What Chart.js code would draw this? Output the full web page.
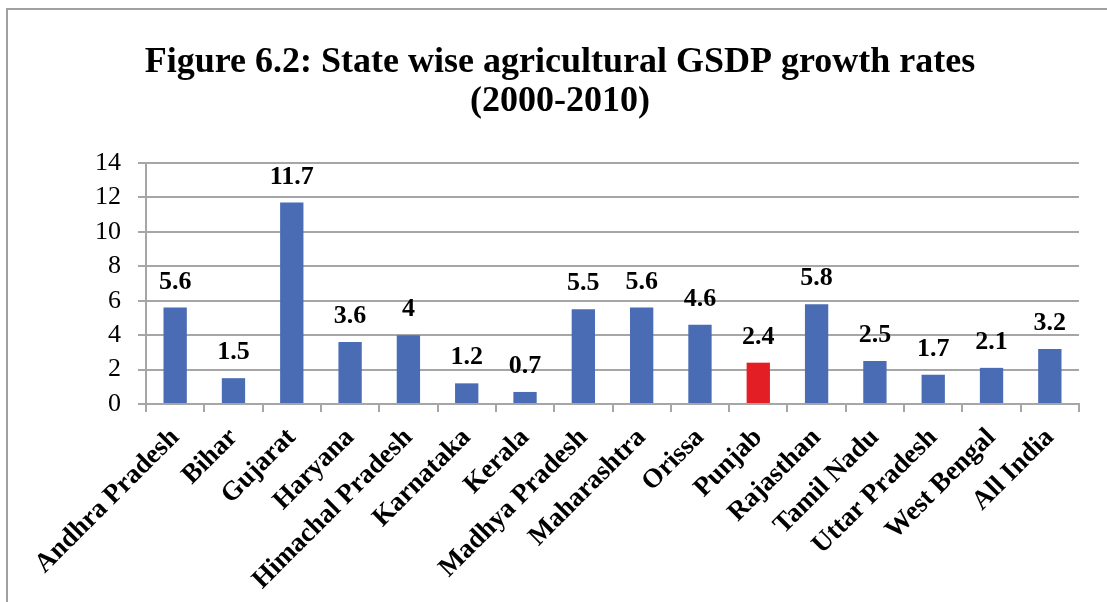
<!DOCTYPE html>
<html>
<head>
<meta charset="utf-8">
<script src="https://cdn.jsdelivr.net/npm/chart.js@4/dist/chart.umd.min.js"></script>
<style>
  html,body{margin:0;padding:0;background:#fff;}
  #wrap{width:1107px;height:602px;position:relative;}
</style>
</head>
<body>
<div id="wrap"><canvas id="chart" width="1107" height="602"></canvas></div>
<script>
var states=["Andhra Pradesh","Bihar","Gujarat","Haryana","Himachal Pradesh","Karnataka","Kerala","Madhya Pradesh","Maharashtra","Orissa","Punjab","Rajasthan","Tamil Nadu","Uttar Pradesh","West Bengal","All India"];
var growth=[5.6,1.5,11.7,3.6,4,1.2,0.7,5.5,5.6,4.6,2.4,5.8,2.5,1.7,2.1,3.2];
var yTicks=[0,2,4,6,8,10,12,14];
var titleLines=["Figure 6.2: State wise agricultural GSDP growth rates","(2000-2010)"];

var serif="'Liberation Serif','Times New Roman',serif";
var gridGrey="#a6a6a6";

// blue bars, Punjab in red
var barColors=states.map(function(s){ return s=="Punjab" ? "#e31e24" : "#4a6cb4"; });

var extras={
  id:"extras",
  beforeDraw:function(c){
    var ctx=c.ctx;
    ctx.save();
    ctx.strokeStyle="#a0a0a0";
    ctx.lineWidth=2;
    ctx.beginPath();
    ctx.moveTo(7,602);ctx.lineTo(7,9);ctx.lineTo(1107,9);
    ctx.stroke();
    ctx.fillStyle="#000";
    ctx.font="bold 36px "+serif;
    ctx.textAlign="center";
    ctx.textBaseline="middle";
    ctx.fillText(titleLines[0],560,63);
    ctx.fillText(titleLines[1],560,102);
    ctx.restore();
  },
  afterDatasetsDraw:function(c){
    var ctx=c.ctx;
    var meta=c.getDatasetMeta(0);
    ctx.save();
    ctx.fillStyle="#000";
    ctx.font="bold 26px "+serif;
    ctx.textAlign="center";
    ctx.textBaseline="alphabetic";
    meta.data.forEach(function(bar,i){
      ctx.fillText(String(growth[i]),bar.x,bar.y-19);
    });
    ctx.restore();
  }
};

var mychart=new Chart(document.getElementById("chart").getContext("2d"),{
  type:"bar",
  data:{
    labels:states,
    datasets:[{
      data:growth,
      backgroundColor:barColors,
      borderWidth:0,
      categoryPercentage:1,
      barPercentage:0.4
    }]
  },
  options:{
    responsive:false,
    animation:false,
    layout:{padding:{left:0,right:28,top:163,bottom:0}},
    plugins:{legend:{display:false},tooltip:{enabled:false},title:{display:false}},
    scales:{
      x:{
        offset:true,
        grid:{display:true,offset:true,drawOnChartArea:false,drawTicks:true,tickLength:8,color:gridGrey,lineWidth:2},
        border:{display:true,color:gridGrey,width:2},
        ticks:{
          autoSkip:false,minRotation:45,maxRotation:45,padding:10,
          color:"#000",font:{family:serif,size:27,weight:"bold"}
        },
        afterFit:function(s){ s.height=198; }
      },
      y:{
        min:0,max:14,
        afterBuildTicks:function(s){ s.ticks=yTicks.map(function(v){return {value:v};}); },
        grid:{color:gridGrey,lineWidth:2,drawTicks:true,tickLength:8},
        border:{display:true,color:gridGrey,width:2},
        ticks:{padding:17,color:"#000",font:{family:serif,size:26}},
        afterFit:function(s){ s.width=146; }
      }
    }
  },
  plugins:[extras]
});
</script>
</body>
</html>
